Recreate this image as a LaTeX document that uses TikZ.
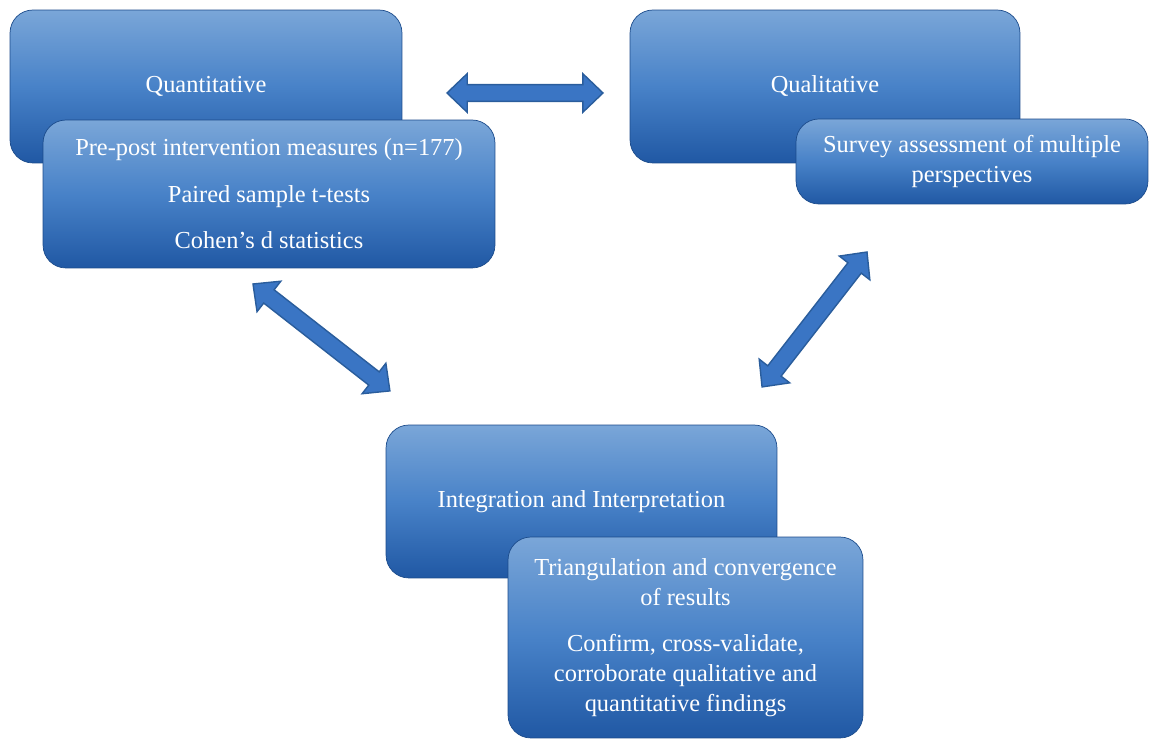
\documentclass[tikz,border=0pt]{standalone}
\usepackage{fontspec}
\setmainfont{Liberation Serif}
\usetikzlibrary{calc}

\definecolor{cajaarriba}{RGB}{122,166,216}
\definecolor{cajamedio}{RGB}{72,130,200}
\definecolor{cajaabajo}{RGB}{32,88,164}
\definecolor{flecharelleno}{RGB}{58,117,196}
\definecolor{flechaborde}{RGB}{42,93,156}

\tikzset{
  caja/.style={rectangle, rounded corners=13pt, top color=cajaarriba, bottom color=cajaabajo,
    middle color=cajamedio, draw=cajaabajo!85!black, line width=.4pt, text=white,
    align=center, inner sep=0pt, font=\fontsize{13.9}{17}\selectfont},
  flecha/.style={fill=flecharelleno, draw=flechaborde, line width=.8pt, line join=miter}
}

% flecha doble entre dos puntos con nombre
\newcommand\flechadoble[2]{%
  \draw[flecha] let \p1=($(#2)-(#1)$), \n1={atan2(\y1,\x1)}, \n2={veclen(\x1,\y1)} in
    [shift={(#1)}, rotate=\n1]
    (0pt,0pt) -- (11.5pt,11pt) -- (11.5pt,4.8pt) -- ({\n2-11.5pt},4.8pt) -- ({\n2-11.5pt},11pt)
    -- ({\n2+0pt},0pt) -- ({\n2-11.5pt},-11pt) -- ({\n2-11.5pt},-4.8pt) -- (11.5pt,-4.8pt)
    -- (11.5pt,-11pt) -- cycle;}

\begin{document}
\begin{tikzpicture}[x=0.02cm,y=-0.02cm]
  \useasboundingbox (0,0) rectangle (1150,739);

  % Cuantitativo
  \node[caja, minimum width=7.84cm, minimum height=3.06cm] (cuanti) at (206,86.5) {Quantitative};
  \node[caja, minimum width=9.04cm, minimum height=2.96cm] (cuantidet) at (269,194)
    {Pre-post intervention measures (n=177)\\[9.5pt]Paired sample t-tests\\[9.5pt]Cohen’s d statistics};

  % Cualitativo
  \node[caja, minimum width=7.8cm, minimum height=3.06cm] (cuali) at (825,86.5) {Qualitative};
  \node[caja, minimum width=7.04cm, minimum height=1.7cm] (cualidet) at (972,161.5)
    {Survey assessment of multiple\\perspectives};

  % Integracion
  \node[caja, minimum width=7.82cm, minimum height=3.06cm] (integ) at (581.5,501.5) {Integration and Interpretation};
  \node[caja, minimum width=7.1cm, minimum height=4.02cm] (integdet) at (685.5,637.5)
    {Triangulation and convergence\\of results\\[9.5pt]Confirm, cross-validate,\\corroborate qualitative and\\quantitative findings};

  % Flechas
  \coordinate (h1) at (447,93);
  \coordinate (h2) at (603,93);
  \coordinate (i1) at (253,284);
  \coordinate (i2) at (390,391);
  \coordinate (d1) at (867,252);
  \coordinate (d2) at (762,387);
  \flechadoble{h1}{h2}
  \flechadoble{i1}{i2}
  \flechadoble{d1}{d2}
\end{tikzpicture}
\end{document}
